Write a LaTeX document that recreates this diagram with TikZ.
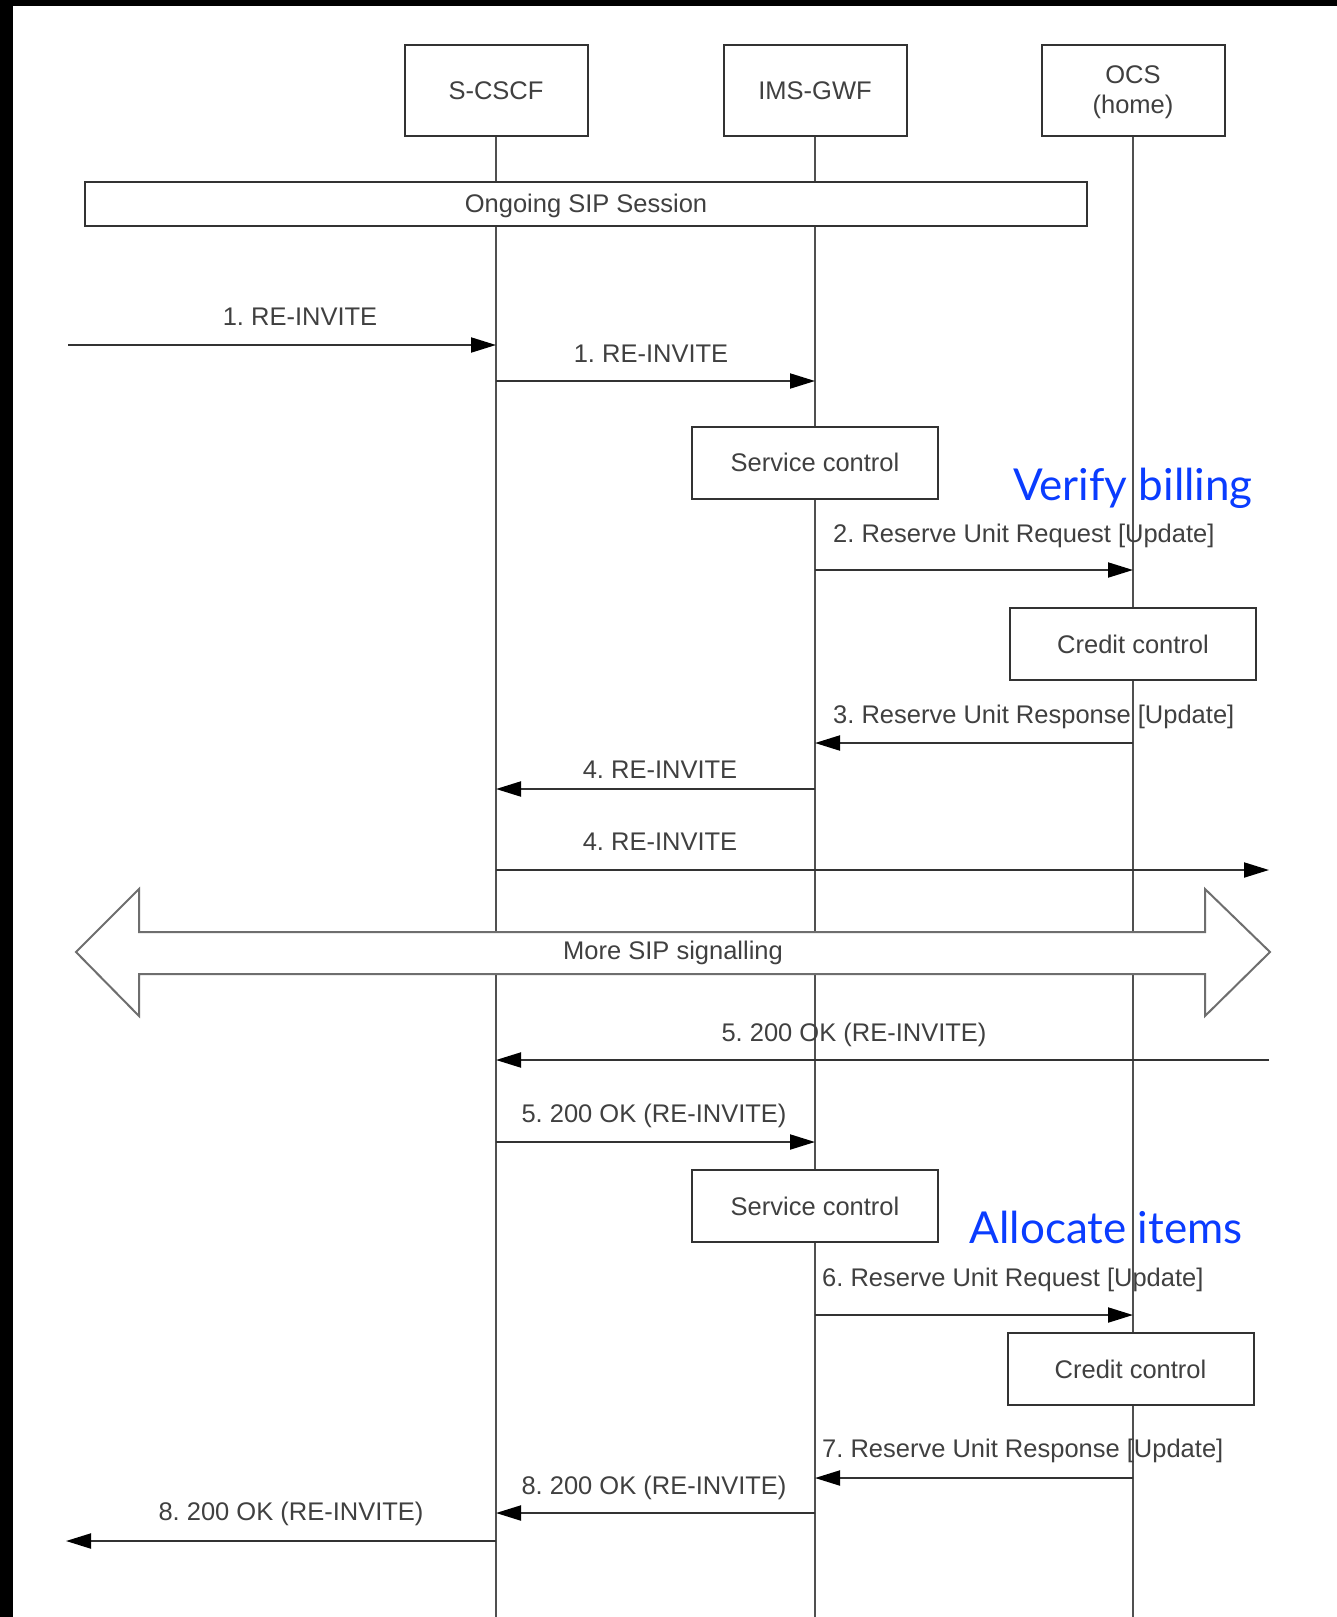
\documentclass[tikz,border=0pt]{standalone}
\usepackage{fontspec}
\setmainfont{Liberation Sans}
\newfontfamily\notefont{Lato}
\usetikzlibrary{arrows.meta}
\definecolor{txt}{HTML}{404040}
\definecolor{ln}{HTML}{333333}
\definecolor{lifeln}{HTML}{505050}
\definecolor{bigln}{HTML}{6E6E6E}
\definecolor{notebl}{RGB}{10,60,255}
\begin{document}
\frenchspacing
\begin{tikzpicture}[x=1pt,y=-1pt,
  lbl/.style={font=\fontsize{25.5}{30}\selectfont, text=txt, inner sep=0pt},
  actor/.style={draw=ln, line width=2pt, fill=white, minimum width=183pt, minimum height=91pt, lbl, align=center},
  procbox/.style={draw=ln, line width=2pt, fill=white, minimum width=246pt, minimum height=72pt, lbl},
  life/.style={draw=lifeln, line width=1.8pt},
  msg/.style={draw=ln, line width=2pt, -{Triangle[length=25pt,width=15pt,fill=black,color=black]}},
  note/.style={font=\notefont\fontsize{44}{50}\selectfont, text=notebl, inner sep=0pt},
]
\useasboundingbox (0,0) rectangle (1337,1617);
\fill[white] (0,0) rectangle (1337,1617);
\fill[black] (0,0) rectangle (1337,6);
\fill[black] (0,0) rectangle (13,1617);

% actors
\node[actor] (S) at (496,90.5) {S-CSCF};
\node[actor] (I) at (815,90.5) {IMS-GWF};
\node[actor] (O) at (1133,90.5) {};
\node[lbl, align=center] (Otxt) at (1133,92.5) {OCS\\[0pt](home)};

% lifeline ends
\coordinate (Sb) at (496,1617);
\coordinate (Ib) at (815,1617);
\coordinate (Ob) at (1133,1617);
\draw[life] (S) -- (Sb);
\draw[life] (I) -- (Ib);
\draw[life] (O) -- (Ob);

% ongoing session
\node[draw=ln, line width=2pt, fill=white, minimum width=1002pt, minimum height=44pt] (sess) at (586,204) {};
\node[lbl] (sesstxt) at (586,206) {Ongoing SIP Session};

% processing boxes
\node[procbox] (sc1) at (815,462.5) {Service control};
\node[procbox] (cc1) at (1133,644) {Credit control};
\node[procbox] (sc2) at (815,1206) {Service control};
\node[procbox] (cc2) at (1130.5,1369) {Credit control};

% big double arrow
\draw[draw=bigln, line width=2pt, fill=white, line join=miter]
  (76,952) -- (139,889) -- (139,932) -- (1205,932) -- (1205,889) -- (1270,952)
  -- (1205,1016) -- (1205,974) -- (139,974) -- (139,1016) -- cycle;
\node[lbl] (more) at (673,953) {More SIP signalling};

% free ends
\coordinate (inL) at (68,345);
\coordinate (outR) at (1269,870);
\coordinate (inR) at (1269,1060);
\coordinate (outL) at (66,1541);

% messages
\draw[msg] (inL) -- (S |- inL);
\node[lbl] (l1a) at (300,317) {1. RE-INVITE};
\draw[msg] (S |- 0,381) -- (I |- 0,381);
\node[lbl] (l1b) at (651,354) {1. RE-INVITE};

\draw[msg] (I |- 0,570) -- (O |- 0,570);
\node[lbl, anchor=west] (l2) at (833,536) {2. Reserve Unit Request [Update]};
\draw[msg] (O |- 0,743) -- (I |- 0,743);
\node[lbl, anchor=west] (l3) at (833,717) {3. Reserve Unit Response [Update]};

\draw[msg] (I |- 0,789) -- (S |- 0,789);
\node[lbl] (l4a) at (660,770) {4. RE-INVITE};
\draw[msg] (S |- outR) -- (outR);
\node[lbl] (l4b) at (660,842) {4. RE-INVITE};

\draw[msg] (inR) -- (S |- inR);
\node[lbl] (l5a) at (854,1035) {5. 200 OK (RE-INVITE)};
\draw[msg] (S |- 0,1142) -- (I |- 0,1142);
\node[lbl] (l5b) at (654,1116) {5. 200 OK (RE-INVITE)};

\draw[msg] (I |- 0,1315) -- (O |- 0,1315);
\node[lbl, anchor=west] (l6) at (822,1280) {6. Reserve Unit Request [Update]};
\draw[msg] (O |- 0,1478) -- (I |- 0,1478);
\node[lbl, anchor=west] (l7) at (822,1451) {7. Reserve Unit Response [Update]};

\draw[msg] (I |- 0,1513) -- (S |- 0,1513);
\node[lbl] (l8a) at (654,1488) {8. 200 OK (RE-INVITE)};
\draw[msg] (S |- outL) -- (outL);
\node[lbl] (l8b) at (291,1514) {8. 200 OK (RE-INVITE)};

% blue notes
\node[note, anchor=base] (n1) at (1133,500) {Verify billing};
\node[note, anchor=base] (n2) at (1106,1243) {Allocate items};
\end{tikzpicture}
\end{document}
